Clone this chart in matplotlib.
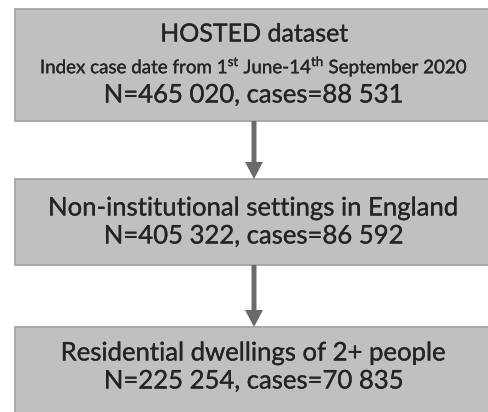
import matplotlib
matplotlib.use("Agg")
from matplotlib import pyplot as plt
from matplotlib.patches import Rectangle
import matplotlib.patheffects as pe

plt.rcParams['font.family'] = ['Lato', 'DejaVu Sans']
plt.rcParams['mathtext.fontset'] = 'custom'
plt.rcParams['mathtext.rm'] = 'Lato'

# flow chart content
titles = ["HOSTED dataset",
          "Non-institutional settings in England",
          "Residential dwellings of 2+ people"]
N = ["465 020", "405 322", "225 254"]
cases = ["88 531", "86 592", "70 835"]
subtitle = r"Index case date from 1$^{\mathregular{st}}$ June-14$^{\mathregular{th}}$ September 2020"

# box layout in pixel coords (top, bottom)
boxes = [(9, 121), (179, 265), (327, 420)]
box_x0, box_x1 = 15, 500
arrow_x = 254
txt_col = '#242424'
thick = [pe.withStroke(linewidth=0.2, foreground=txt_col)]

fig = plt.figure(figsize=(4.88, 4.12), dpi=100)
ax = fig.add_axes([0, 0, 1, 1])
ax.set_xlim(0, 488)
ax.set_ylim(412, 0)
ax.axis('off')

for i, (top, bot) in enumerate(boxes):
    ax.add_patch(Rectangle((box_x0, top), box_x1 - box_x0, bot - top,
                           facecolor='#c0c0c0', edgecolor='#a0a0a0', lw=1.2))

# box 1
ax.text(arrow_x, 34, titles[0], ha='center', va='center', fontsize=18,
        color=txt_col, path_effects=thick)
ax.text(arrow_x, 66, subtitle, ha='center', va='center', fontsize=13.5,
        color=txt_col, path_effects=thick)
ax.text(arrow_x, 95, "N=%s, cases=%s" % (N[0], cases[0]), ha='center', va='center',
        fontsize=18.5, color=txt_col, path_effects=thick)

# box 2 and 3
for i, yc in [(1, 208), (2, 353)]:
    ax.text(arrow_x, yc, titles[i], ha='center', va='center', fontsize=18.5,
            color=txt_col, path_effects=thick)
    ax.text(arrow_x, yc + 28, "N=%s, cases=%s" % (N[i], cases[i]), ha='center',
            va='center', fontsize=18.5, color=txt_col, path_effects=thick)

# arrows between boxes
for j in range(len(boxes) - 1):
    y0 = boxes[j][1]
    y1 = boxes[j + 1][0]
    ax.arrow(arrow_x, y0, 0, y1 - y0, width=5, head_width=18, head_length=17,
             length_includes_head=True, color='#6a6a6a', lw=0)

fig.savefig("out.png", dpi=100)
